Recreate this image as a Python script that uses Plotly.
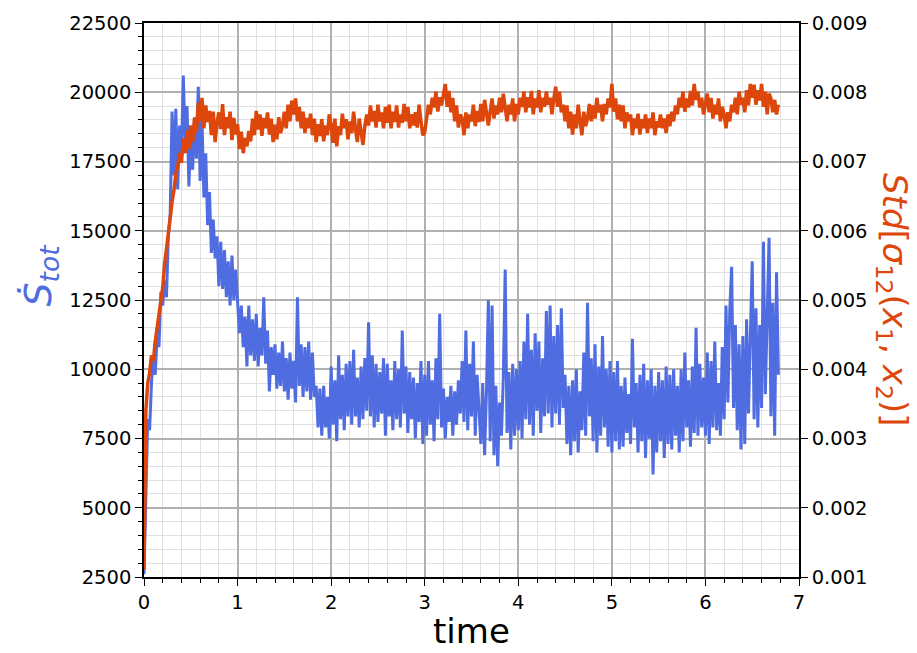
import numpy as np
import plotly.graph_objects as go

# time step between samples (read every 0.02 time units)
dt = 0.02

# Blue series: entropy production rate S_tot (left axis), rows of 0.1 time units
s_tot = [
    2600, 6000, 8200, 7800, 9500,
    10500, 9800, 11200, 10800, 12800,
    12300, 13200, 12600, 14800, 15600,
    19300, 17000, 19400, 16500, 18800,
    17800, 20600, 18200, 19500, 16600,
    18700, 17200, 19100, 17600, 20200,
    16800, 19000, 16200, 17800, 15200,
    16400, 14200, 15400, 14000, 14800,
    13000, 14600, 12900, 14300, 12600,
    13900, 12300, 14100, 12500, 13600,
    12300, 11300, 12300, 10800, 11900,
    10100, 12300, 10500, 11800, 10300,
    12000, 10100, 11500, 10500, 12600,
    10200, 11400, 9200, 10800, 9800,
    10900, 9300, 10600, 9400, 11000,
    9200, 10400, 8900, 10600, 9300,
    10300, 8800, 12600, 9400, 10900,
    9000, 10800, 9200, 11000, 8900,
    10600, 9000, 9400, 7900, 9300,
    7600, 9400, 7900, 9000, 7500,
    10100, 8000, 9600, 7400, 10500,
    8200, 9800, 7800, 10200, 8300,
    10300, 8000, 10700, 8300, 9700,
    7900, 10100, 8200, 10400, 8500,
    11700, 8300, 10500, 7900, 10200,
    8100, 9900, 8400, 10400, 7600,
    10200, 8300, 9600, 7800, 10300,
    8200, 10000, 7900, 11400, 8400,
    10100, 7700, 9900, 8200, 9700,
    7500, 9500, 8100, 10300, 7300,
    9800, 7600, 10300, 8000, 9600,
    7400, 10400, 8200, 12000, 7900,
    9300, 7500, 9000, 8100, 9400,
    7600, 9200, 8000, 9600, 8400,
    10300, 8100, 11400, 7800, 10200,
    8300, 11000, 7600, 9800, 8500,
    7300, 9500, 6900, 9200, 12500,
    7400, 12300, 6900, 9400, 6500,
    8800, 7600, 9700, 13600, 7700,
    9900, 7100, 10200, 7600, 10000,
    7800, 10300, 7500, 11000, 8200,
    12000, 8000, 10700, 7600, 11300,
    8500, 11000, 7700, 10400, 8300,
    12100, 8400, 12300, 7900, 11200,
    8400, 11600, 8000, 12200, 8600,
    9800, 7300, 9400, 6900, 9600,
    7400, 10000, 7000, 9200, 7800,
    10600, 7600, 12400, 8300, 10400,
    7400, 10900, 7000, 10100, 7600,
    11200, 7900, 10000, 7200, 10300,
    7000, 9900, 7400, 10300, 7100,
    9400, 7200, 9700, 7700, 9100,
    7300, 11100, 7900, 9500, 7000,
    9800, 7400, 10200, 6800, 9600,
    7500, 10000, 6200, 9400, 7000,
    9900, 7400, 9600, 6800, 10100,
    7300, 9800, 7100, 10000, 7600,
    9400, 7000, 10000, 7400, 10600,
    7900, 9600, 7200, 10100, 7700,
    11500, 7600, 10200, 7900, 9700,
    7600, 10600, 7300, 10300, 7900,
    11000, 7800, 9500, 7600, 10800,
    8200, 12300, 8800, 12100, 13700,
    8600, 11600, 7800, 10900, 7100,
    11200, 7300, 11800, 8400, 10800,
    13900, 8200, 12200, 7900, 11600,
    8600, 14600, 9100, 12000, 14750,
    8300, 12400, 7600, 13500, 9800,
]

# Orange series: Std[sigma_12(x1, x2)] (right axis)
std_sigma = [
    0.00110, 0.00340, 0.00380, 0.00395, 0.00420,
    0.00412, 0.00440, 0.00462, 0.00478, 0.00502,
    0.00518, 0.00552, 0.00578, 0.00603, 0.00618,
    0.00642, 0.00658, 0.00683, 0.00692, 0.00712,
    0.00698, 0.00733, 0.00712, 0.00745, 0.00718,
    0.00752, 0.00728, 0.00763, 0.00742, 0.00785,
    0.00758, 0.00792, 0.00748, 0.00781, 0.00757,
    0.00773, 0.00738, 0.00772, 0.00728, 0.00756,
    0.00771, 0.00747, 0.00783, 0.00738, 0.00764,
    0.00748, 0.00772, 0.00731, 0.00763, 0.00739,
    0.00754, 0.00718, 0.00743, 0.00712, 0.00734,
    0.00722, 0.00744, 0.00729, 0.00762, 0.00738,
    0.00773, 0.00746, 0.00768, 0.00737, 0.00763,
    0.00748, 0.00771, 0.00739, 0.00762, 0.00728,
    0.00753, 0.00732, 0.00764, 0.00741, 0.00752,
    0.00772, 0.00748, 0.00782, 0.00758, 0.00788,
    0.00768, 0.00791, 0.00758, 0.00779, 0.00748,
    0.00772, 0.00741, 0.00763, 0.00748, 0.00769,
    0.00738, 0.00762, 0.00728, 0.00754, 0.00737,
    0.00761, 0.00729, 0.00752, 0.00738, 0.00768,
    0.00752, 0.00727, 0.00762, 0.00722, 0.00751,
    0.00738, 0.00769, 0.00748, 0.00761, 0.00732,
    0.00758, 0.00741, 0.00772, 0.00747, 0.00728,
    0.00762, 0.00738, 0.00724, 0.00751, 0.00768,
    0.00752, 0.00781, 0.00758, 0.00773, 0.00749,
    0.00782, 0.00758, 0.00771, 0.00748, 0.00779,
    0.00756, 0.00782, 0.00748, 0.00772, 0.00757,
    0.00781, 0.00749, 0.00768, 0.00756, 0.00783,
    0.00758, 0.00779, 0.00748, 0.00768, 0.00752,
    0.00771, 0.00749, 0.00782, 0.00758, 0.00738,
    0.00742, 0.00763, 0.00782, 0.00768, 0.00792,
    0.00778, 0.00801, 0.00772, 0.00793, 0.00781,
    0.00798, 0.00812, 0.00779, 0.00802, 0.00771,
    0.00792, 0.00758, 0.00781, 0.00749, 0.00768,
    0.00762, 0.00738, 0.00771, 0.00748, 0.00768,
    0.00758, 0.00782, 0.00751, 0.00773, 0.00757,
    0.00783, 0.00758, 0.00789, 0.00768, 0.00752,
    0.00772, 0.00791, 0.00762, 0.00781, 0.00768,
    0.00792, 0.00771, 0.00798, 0.00778, 0.00758,
    0.00782, 0.00768, 0.00791, 0.00758, 0.00783,
    0.00768, 0.00792, 0.00779, 0.00801, 0.00771,
    0.00793, 0.00778, 0.00802, 0.00768, 0.00791,
    0.00778, 0.00803, 0.00771, 0.00792, 0.00779,
    0.00801, 0.00782, 0.00792, 0.00768, 0.00791,
    0.00808, 0.00779, 0.00801, 0.00771, 0.00782,
    0.00758, 0.00781, 0.00748, 0.00772, 0.00739,
    0.00768, 0.00748, 0.00782, 0.00759, 0.00738,
    0.00772, 0.00751, 0.00762, 0.00783, 0.00758,
    0.00781, 0.00762, 0.00792, 0.00771, 0.00782,
    0.00758, 0.00783, 0.00768, 0.00791, 0.00778,
    0.00812, 0.00772, 0.00791, 0.00761, 0.00782,
    0.00758, 0.00781, 0.00748, 0.00771, 0.00758,
    0.00768, 0.00738, 0.00762, 0.00748, 0.00769,
    0.00739, 0.00761, 0.00748, 0.00768, 0.00741,
    0.00762, 0.00748, 0.00771, 0.00738, 0.00758,
    0.00749, 0.00768, 0.00748, 0.00762, 0.00741,
    0.00768, 0.00751, 0.00772, 0.00758, 0.00781,
    0.00768, 0.00792, 0.00778, 0.00801, 0.00772,
    0.00791, 0.00778, 0.00802, 0.00781, 0.00812,
    0.00789, 0.00801, 0.00778, 0.00792, 0.00768,
    0.00781, 0.00798, 0.00771, 0.00792, 0.00762,
    0.00782, 0.00768, 0.00791, 0.00758, 0.00779,
    0.00768, 0.00748, 0.00771, 0.00758, 0.00782,
    0.00771, 0.00792, 0.00768, 0.00801, 0.00782,
    0.00792, 0.00771, 0.00803, 0.00781, 0.00812,
    0.00792, 0.00811, 0.00782, 0.00803, 0.00788,
    0.00812, 0.00779, 0.00801, 0.00768, 0.00798,
    0.00791, 0.00771, 0.00789, 0.00768, 0.00782,
]

time = np.round(np.arange(len(s_tot)) * dt, 3)

x_ticks = [0, 1, 2, 3, 4, 5, 6, 7]
left_ticks = [2500, 5000, 7500, 10000, 12500, 15000, 17500, 20000, 22500]
right_ticks = [0.001, 0.002, 0.003, 0.004, 0.005, 0.006, 0.007, 0.008, 0.009]

BLUE = "#4f6ce0"
ORANGE = "#dd470b"
FONT = "DejaVu Sans"
TICK_SIZE = 19.5

fig = go.Figure()
fig.add_trace(go.Scatter(x=time, y=s_tot, mode="lines",
                         line=dict(color=BLUE, width=3), showlegend=False))
fig.add_trace(go.Scatter(x=time, y=std_sigma, mode="lines", yaxis="y2",
                         line=dict(color=ORANGE, width=3.5), showlegend=False))

grid_major = "#b0b0b0"
grid_minor = "#e0e0e0"

fig.update_layout(
    width=917, height=653,
    margin=dict(l=144, r=118, t=14, b=76),
    paper_bgcolor="white", plot_bgcolor="white",
    font=dict(family=FONT, size=TICK_SIZE, color="black"),
    xaxis=dict(
        range=[0, 7], tickvals=x_ticks, ticks="outside", ticklen=7, tickwidth=1.3,
        tickcolor="black", showline=True, linecolor="black", linewidth=1.5,
        mirror=True, showgrid=True, gridcolor=grid_major, gridwidth=2,
        zeroline=False,
        minor=dict(dtick=0.2, ticks="outside", ticklen=4, tickcolor="black",
                   showgrid=True, gridcolor=grid_minor, gridwidth=1),
        tickfont=dict(size=TICK_SIZE),
    ),
    yaxis=dict(
        range=[2500, 22500], tickvals=left_ticks, tickformat="d",
        ticks="outside", ticklen=7, tickwidth=1.3, tickcolor="black",
        showline=True, linecolor="black", linewidth=1.5,
        showgrid=True, gridcolor=grid_major, gridwidth=2, zeroline=False,
        minor=dict(dtick=500, ticks="outside", ticklen=4, tickcolor="black",
                   showgrid=True, gridcolor=grid_minor, gridwidth=1),
        tickfont=dict(size=TICK_SIZE),
    ),
    yaxis2=dict(
        range=[0.001, 0.009], tickvals=right_ticks, tickformat=".3f",
        overlaying="y", side="right", ticks="outside", ticklen=7, tickwidth=1.3,
        tickcolor="black", showline=True, linecolor="black", linewidth=1.5,
        showgrid=False, zeroline=False, tickfont=dict(size=TICK_SIZE),
    ),
    annotations=[
        dict(text="time", x=0.5, y=-0.098, xref="paper", yref="paper",
             xanchor="center", yanchor="middle", showarrow=False,
             font=dict(size=34, family=FONT, color="black")),
        dict(text="<i>Ṡ<sub>tot</sub></i>", x=-0.158, y=0.545, xref="paper", yref="paper",
             xanchor="center", yanchor="middle", showarrow=False, textangle=-90,
             font=dict(size=38, family=FONT, color=BLUE)),
        dict(text="<i>Std</i>[<i>σ</i><sub>12</sub>(<i>x</i><sub>1</sub>, <i>x</i><sub>2</sub>)]",
             x=1.1435, y=0.50, xref="paper", yref="paper",
             xanchor="center", yanchor="middle", showarrow=False, textangle=90,
             font=dict(size=34, family=FONT, color=ORANGE)),
    ],
)

fig.write_html("out.html")
